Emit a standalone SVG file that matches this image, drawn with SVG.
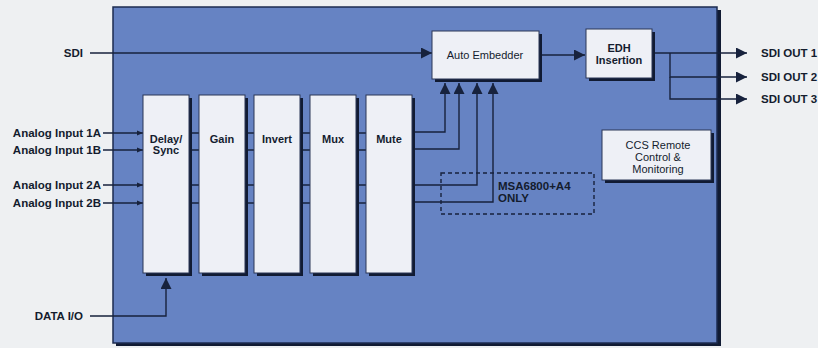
<svg xmlns="http://www.w3.org/2000/svg" width="818" height="348" viewBox="0 0 818 348">
<defs>
<style>
.t{font-family:"Liberation Sans",Arial,sans-serif;font-size:11px;font-weight:bold;fill:#141c2e}
.o{font-size:11.5px}
.r{font-weight:normal}
.m{text-anchor:middle}
.e{text-anchor:end}
.ln{stroke:#17223d;stroke-width:1.4;fill:none}
.dl{stroke:#17223d;stroke-width:1.4;fill:none;stroke-dasharray:4 3}
.blk{fill:#eef0f6;stroke:#2a3656;stroke-width:1}
.sh{fill:#111b33}
</style>
<marker id="ah" viewBox="0 0 10 10" refX="10" refY="5" markerWidth="11" markerHeight="11" markerUnits="userSpaceOnUse" orient="auto">
<path d="M0,0 L10,5 L0,10 z" fill="#17223d"/>
</marker>
<marker id="as" viewBox="0 0 10 10" refX="10" refY="5" markerWidth="6" markerHeight="6" markerUnits="userSpaceOnUse" orient="auto">
<path d="M0,1 L10,5 L0,9 z" fill="#17223d"/>
</marker>
</defs>
<rect width="818" height="348" fill="#eef0f2"/>
<g id="main">
<rect x="116" y="10" width="605" height="336" class="sh"/>
<rect x="113" y="7" width="604" height="336" fill="#6683c3" stroke="#1c2b50" stroke-width="1.5"/>
</g>
<g id="connectors">
<line x1="90" y1="53" x2="432" y2="53" class="ln" marker-end="url(#ah)"/>
<line x1="542" y1="55" x2="585" y2="55" class="ln" marker-end="url(#ah)"/>
<line x1="655" y1="53" x2="747" y2="53" class="ln" marker-end="url(#ah)"/>
<polyline points="670,53 670,77 747,77" class="ln" marker-end="url(#ah)"/>
<polyline points="670,77 670,99 747,99" class="ln" marker-end="url(#ah)"/>
<line x1="103" y1="133" x2="143" y2="133" class="ln" marker-end="url(#as)"/>
<line x1="103" y1="150" x2="143" y2="150" class="ln" marker-end="url(#as)"/>
<line x1="103" y1="185" x2="143" y2="185" class="ln" marker-end="url(#as)"/>
<line x1="103" y1="203" x2="143" y2="203" class="ln" marker-end="url(#as)"/>
<line x1="189" y1="133" x2="366" y2="133" class="ln"/>
<line x1="189" y1="150" x2="366" y2="150" class="ln"/>
<line x1="189" y1="185" x2="366" y2="185" class="ln"/>
<line x1="189" y1="203" x2="366" y2="203" class="ln"/>
<polyline points="412,132 445,132 445,83" class="ln" marker-end="url(#ah)"/>
<polyline points="412,149 459,149 459,83" class="ln" marker-end="url(#ah)"/>
<polyline points="412,185 477,185 477,83" class="ln" marker-end="url(#ah)"/>
<polyline points="412,202 493,202 493,83" class="ln" marker-end="url(#ah)"/>
<polyline points="90,316 166,316 166,278" class="ln" marker-end="url(#ah)"/>
<rect x="441" y="173" width="153" height="41" class="dl"/>
</g>
<g id="auto-embedder">
<rect x="435" y="34" width="107" height="48" class="sh"/>
<rect x="432" y="31" width="107" height="48" class="blk"/>
<text x="485" y="59" class="t r m">Auto Embedder</text>
</g>
<g id="edh">
<rect x="589" y="32" width="66" height="49" class="sh"/>
<rect x="586" y="29" width="66" height="49" class="blk"/>
<text x="619" y="52" class="t m">EDH</text>
<text x="619" y="64" class="t m">Insertion</text>
</g>
<g id="ccs">
<rect x="605" y="133" width="109" height="50" class="sh"/>
<rect x="602" y="130" width="109" height="50" class="blk"/>
<text x="658" y="149" class="t r m">CCS Remote</text>
<text x="658" y="161" class="t r m">Control &amp;</text>
<text x="658" y="173" class="t r m">Monitoring</text>
</g>
<g id="delay-sync">
<rect x="146" y="98" width="46" height="178" class="sh"/>
<rect x="143" y="95" width="46" height="178" class="blk"/>
<text x="166" y="143" class="t m">Delay/</text>
<text x="166" y="154" class="t m">Sync</text>
</g>
<g id="gain">
<rect x="202" y="98" width="46" height="178" class="sh"/>
<rect x="199" y="95" width="46" height="178" class="blk"/>
<text x="222" y="143" class="t m">Gain</text>
</g>
<g id="invert">
<rect x="257" y="98" width="46" height="178" class="sh"/>
<rect x="254" y="95" width="46" height="178" class="blk"/>
<text x="277" y="143" class="t m">Invert</text>
</g>
<g id="mux">
<rect x="313" y="98" width="46" height="178" class="sh"/>
<rect x="310" y="95" width="46" height="178" class="blk"/>
<text x="333" y="143" class="t m">Mux</text>
</g>
<g id="mute">
<rect x="369" y="98" width="46" height="178" class="sh"/>
<rect x="366" y="95" width="46" height="178" class="blk"/>
<text x="389" y="143" class="t m">Mute</text>
</g>
<g id="labels">
<text x="83" y="57" class="t o e">SDI</text>
<text x="101" y="137" class="t o e">Analog Input 1A</text>
<text x="101" y="154" class="t o e">Analog Input 1B</text>
<text x="101" y="189" class="t o e">Analog Input 2A</text>
<text x="101" y="207" class="t o e">Analog Input 2B</text>
<text x="83" y="320" class="t o e">DATA I/O</text>
<text x="498" y="190" class="t o">MSA6800+A4</text>
<text x="498" y="202" class="t o">ONLY</text>
<text x="761" y="57" class="t o">SDI OUT 1</text>
<text x="761" y="81" class="t o">SDI OUT 2</text>
<text x="761" y="103" class="t o">SDI OUT 3</text>
</g>
</svg>
